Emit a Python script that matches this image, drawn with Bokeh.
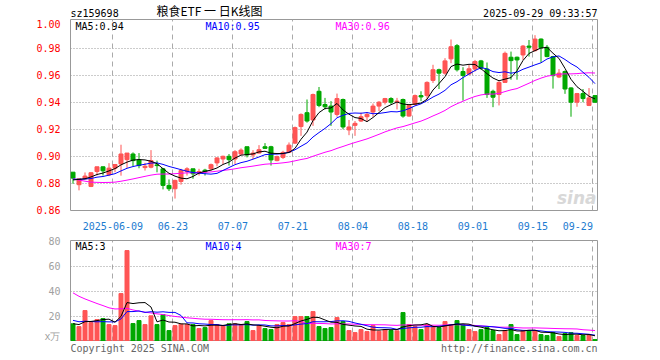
import numpy as np
import pandas as pd
from bokeh.plotting import figure
from bokeh.layouts import column
from bokeh.core.properties import value
from bokeh.models import ColumnDataSource, FixedTicker, Label, Range1d, PrintfTickFormatter
from bokeh.embed import file_html
from bokeh.resources import INLINE

# ---------------- data ----------------
holidays = ["2025-06-02"]
dates = [d for d in pd.bdate_range("2025-05-28", "2025-09-29").strftime("%Y-%m-%d") if d not in holidays]

tick_dates = ["2025-06-09", "2025-06-23", "2025-07-07", "2025-07-21", "2025-08-04",
              "2025-08-18", "2025-09-01", "2025-09-15", "2025-09-29"]
tick_labels = ["2025-06-09", "06-23", "07-07", "07-21", "08-04", "08-18", "09-01", "09-15", "09-29"]

open_ = [0.8881, 0.8788, 0.8832, 0.8775, 0.8886, 0.8921, 0.8862, 0.8911, 0.8942, 0.8974,
         0.9016, 0.8972, 0.8915, 0.8918, 0.8935, 0.8906, 0.8783, 0.8758, 0.8812, 0.8886,
         0.8906, 0.8876, 0.8896, 0.8906, 0.8950, 0.8979, 0.8999, 0.8979, 0.9016, 0.9070,
         0.9009, 0.9023, 0.9070, 0.9070, 0.8967, 0.8991, 0.9028, 0.9097, 0.9220, 0.9323,
         0.9269, 0.9482, 0.9384, 0.9372, 0.9310, 0.9421, 0.9195, 0.9229, 0.9261, 0.9293,
         0.9328, 0.9372, 0.9401, 0.9428, 0.9404, 0.9421, 0.9298, 0.9384, 0.9450, 0.9450,
         0.9563, 0.9642, 0.9617, 0.9723, 0.9821, 0.9629, 0.9610, 0.9647, 0.9708, 0.9647,
         0.9482, 0.9458, 0.9548, 0.9735, 0.9735, 0.9752, 0.9818, 0.9784, 0.9870, 0.9809,
         0.9740, 0.9588, 0.9629, 0.9507, 0.9401, 0.9465, 0.9377, 0.9450]
high = [0.8881, 0.8832, 0.8879, 0.8880, 0.8921, 0.8923, 0.8948, 0.8938, 0.9085, 0.9023,
        0.9028, 0.9023, 0.8950, 0.9045, 0.8967, 0.8911, 0.8827, 0.8825, 0.8906, 0.8918,
        0.8906, 0.8906, 0.8906, 0.8945, 0.8992, 0.9004, 0.9016, 0.9045, 0.9058, 0.9070,
        0.9045, 0.9082, 0.9097, 0.9077, 0.9004, 0.9040, 0.9102, 0.9220, 0.9318, 0.9421,
        0.9465, 0.9514, 0.9433, 0.9409, 0.9465, 0.9428, 0.9269, 0.9261, 0.9323, 0.9328,
        0.9391, 0.9409, 0.9433, 0.9438, 0.9433, 0.9428, 0.9384, 0.9458, 0.9482, 0.9556,
        0.9679, 0.9650, 0.9728, 0.9867, 0.9833, 0.9661, 0.9679, 0.9715, 0.9715, 0.9696,
        0.9494, 0.9556, 0.9777, 0.9777, 0.9740, 0.9826, 0.9863, 0.9899, 0.9875, 0.9826,
        0.9745, 0.9647, 0.9637, 0.9512, 0.9470, 0.9499, 0.9506, 0.9450]
low = [0.8795, 0.8746, 0.8827, 0.8770, 0.8857, 0.8856, 0.8852, 0.8881, 0.8855, 0.8913,
       0.8925, 0.8910, 0.8893, 0.8910, 0.8880, 0.8753, 0.8741, 0.8685, 0.8788, 0.8856,
       0.8832, 0.8856, 0.8856, 0.8893, 0.8925, 0.8942, 0.8930, 0.8942, 0.9009, 0.8991,
       0.8979, 0.9020, 0.9053, 0.8930, 0.8962, 0.8979, 0.9023, 0.9090, 0.9151, 0.9249,
       0.9225, 0.9364, 0.9347, 0.9225, 0.9293, 0.9200, 0.9156, 0.9151, 0.9254, 0.9261,
       0.9293, 0.9335, 0.9384, 0.9384, 0.9347, 0.9286, 0.9293, 0.9377, 0.9409, 0.9421,
       0.9544, 0.9499, 0.9605, 0.9691, 0.9629, 0.9413, 0.9600, 0.9629, 0.9642, 0.9433,
       0.9364, 0.9377, 0.9544, 0.9568, 0.9568, 0.9715, 0.9740, 0.9777, 0.9696, 0.9735,
       0.9502, 0.9580, 0.9463, 0.9293, 0.9367, 0.9401, 0.9372, 0.9396]
close = [0.8837, 0.8832, 0.8852, 0.8877, 0.8921, 0.8891, 0.8911, 0.8938, 0.9016, 0.9023,
         0.8967, 0.8930, 0.8925, 0.8967, 0.8930, 0.8783, 0.8758, 0.8820, 0.8893, 0.8906,
         0.8869, 0.8886, 0.8883, 0.8937, 0.8987, 0.8999, 0.8974, 0.9033, 0.9045, 0.9009,
         0.9023, 0.9048, 0.9058, 0.8972, 0.8996, 0.9028, 0.9082, 0.9212, 0.9310, 0.9261,
         0.9458, 0.9377, 0.9367, 0.9328, 0.9428, 0.9217, 0.9217, 0.9244, 0.9293, 0.9310,
         0.9372, 0.9401, 0.9428, 0.9401, 0.9409, 0.9298, 0.9377, 0.9450, 0.9440, 0.9548,
         0.9642, 0.9617, 0.9708, 0.9813, 0.9642, 0.9600, 0.9649, 0.9703, 0.9654, 0.9458,
         0.9438, 0.9548, 0.9764, 0.9710, 0.9715, 0.9818, 0.9809, 0.9870, 0.9806, 0.9740,
         0.9598, 0.9617, 0.9499, 0.9401, 0.9465, 0.9428, 0.9433, 0.9401]
volume = [13.9, 11.7, 24.5, 14.9, 17.3, 18.1, 13.3, 12.5, 38.1, 72.5,
          14.1, 16.5, 13.3, 20.3, 13.3, 21.3, 8.5, 12.5, 13.6, 13.3,
          13.3, 10.1, 10.9, 16.5, 13.3, 12.3, 13.9, 13.9, 13.3, 15.7,
          8.5, 12.3, 10.1, 9.3, 13.3, 14.9, 13.3, 19.7, 19.7, 19.7,
          23.7, 11.7, 10.1, 10.9, 18.9, 15.7, 8.5, 6.9, 9.3, 7.7,
          12.5, 8.0, 9.3, 8.5, 8.3, 22.9, 13.3, 11.7, 9.3, 13.3,
          11.7, 10.9, 15.7, 13.3, 16.5, 13.3, 9.3, 7.7, 9.3, 10.9,
          8.5, 5.3, 8.5, 13.3, 5.3, 8.5, 8.5, 8.5, 5.3, 4.5,
          6.9, 3.7, 6.1, 6.9, 4.5, 4.5, 4.5, 1.3]

# estimated sessions before the window (only feed the moving averages)
prev_close = [0.912, 0.910, 0.909, 0.897, 0.892, 0.889, 0.888, 0.881, 0.878, 0.870,
              0.864, 0.864, 0.869, 0.873, 0.875, 0.874, 0.875, 0.880, 0.882, 0.884,
              0.885, 0.883, 0.884, 0.882, 0.884, 0.881, 0.883, 0.881, 0.883]
prev_volume = [95, 88, 70, 72, 68, 67, 40, 34, 62, 52,
               45, 39, 38, 35, 37, 34, 33, 31, 29, 25,
               23, 20, 18, 19, 17, 15, 13, 14, 14]

RED = "#FF5555"
GREEN = "#00A800"
BLUE_TXT = "#1C7BD0"
MONO = "DejaVu Sans Mono"

n = len(close)
npre = len(prev_close)
xs = np.arange(n)
c_all = pd.Series(prev_close + close)
v_all = pd.Series(prev_volume + volume)
ma = {k: c_all.rolling(k).mean().iloc[npre:].to_numpy() for k in (5, 10, 30)}
vma = {k: v_all.rolling(k).mean().iloc[npre:].to_numpy() for k in (5, 10, 30)}

o = np.array(open_); c = np.array(close)
up = c >= o
colors = np.where(up, RED, GREEN)
src = ColumnDataSource(dict(
    x=xs, open=o, close=c, high=np.array(high), low=np.array(low),
    top=np.maximum(o, c), bottom=np.minimum(o, c), color=colors,
    vol=np.array(volume),
    ma5=ma[5], ma10=ma[10], ma30=ma[30],
    vma5=vma[5], vma10=vma[10], vma30=vma[30],
))

tick_pos = [dates.index(d) - 0.35 for d in tick_dates]

# pixel helpers (page pixels) for range set-up and text placement
PX0 = 72.5; PSTEP = 6.0
FRAME_L, FRAME_R = 70, 597
def px2x(px):
    return (px - PX0) / PSTEP
def py2p(py):
    return 0.86 + (211.5 - py) / 1360.0
def py2v(py):
    return -0.24 + (341 - py) / 1.25

W = 660

def strip(height):
    # frames in a column are aligned, so this strip's frame spans page x 70..597
    f = figure(width=W, height=height, output_backend="svg", toolbar_location=None,
               x_range=Range1d(FRAME_L, FRAME_R), y_range=Range1d(height, 0),
               x_axis_location=None, y_axis_location=None,
               min_border_left=FRAME_L, min_border_right=W - FRAME_R,
               min_border_top=0, min_border_bottom=0)
    f.grid.visible = False
    f.outline_line_color = None
    f.border_fill_color = "white"
    return f

def stext(f, x, y, t, color="black", align="left", font=MONO, size="10px", style="normal"):
    f.text(x=[x], y=[y], text=[t], text_color=color, text_align=align, text_baseline="middle",
           text_font=value(font), text_font_size=size, text_font_style=style)

# ---------------- header ----------------
p0 = strip(19)
stext(p0, 70, 12.5, "sz159698")
stext(p0, 209, 10, "粮食ETF 一 日K线图", font="Noto Sans CJK SC", size="12px", align="center")
stext(p0, 597, 12.5, "2025-09-29 09:33:57", align="right")

# ---------------- price panel ----------------
p1 = figure(width=W, height=215, output_backend="svg", toolbar_location=None,
            x_range=Range1d(px2x(FRAME_L), px2x(FRAME_R)), y_range=Range1d(py2p(212), py2p(19)),
            min_border_left=FRAME_L, min_border_right=W - FRAME_R, min_border_top=0, min_border_bottom=22)
p1.outline_line_color = "#999999"
p1.border_fill_color = "white"

p1.xaxis.ticker = FixedTicker(ticks=tick_pos)
overrides = {tp: lab for tp, lab in zip(tick_pos, tick_labels)}
overrides[tick_pos[-1]] = tick_labels[-1] + "\u00a0" * 5
p1.xaxis.major_label_overrides = overrides
p1.yaxis.ticker = FixedTicker(ticks=[0.86, 0.88, 0.90, 0.92, 0.94, 0.96, 0.98, 1.00])
p1.yaxis.formatter = PrintfTickFormatter(format="%.2f")
for ax in (p1.xaxis[0], p1.yaxis[0]):
    ax.axis_line_color = None
    ax.major_tick_line_color = None
    ax.minor_tick_line_color = None
    ax.major_label_text_font = MONO
    ax.major_label_text_font_size = "10px"
    ax.major_label_standoff = 4
p1.xaxis.major_label_text_color = BLUE_TXT
p1.yaxis.major_label_text_color = "#FF0000"

p1.xgrid.ticker = FixedTicker(ticks=tick_pos)
p1.xgrid.grid_line_color = "#AAAAAA"
p1.xgrid.grid_line_dash = "5 4"
p1.ygrid.ticker = FixedTicker(ticks=[0.88, 0.90, 0.92, 0.94, 0.96, 0.98])
p1.ygrid.grid_line_color = "#999999"
p1.ygrid.grid_line_dash = "1 2"

p1.segment(x0="x", y0="low", x1="x", y1="high", color="color", line_width=1, source=src)
p1.vbar(x="x", top="top", bottom="bottom", width=4 / PSTEP, fill_color="color",
        line_color="color", line_width=1, source=src)
p1.line("x", "ma30", color="#FF00FF", line_width=1, source=src)
p1.line("x", "ma10", color="#0000FF", line_width=1, source=src)
p1.line("x", "ma5", color="#000000", line_width=1, source=src)

def lab(p, x, y, text, color="black", align="left", font=MONO, size="10px", style="normal"):
    p.add_layout(Label(x=x, y=y, text=text, text_color=color, text_align=align,
                       text_baseline="middle", text_font=font, text_font_size=size,
                       text_font_style=style))

lab(p1, px2x(75), py2p(26), "MA5:0.94", color="#000000")
lab(p1, px2x(205), py2p(26), "MA10:0.95", color="#0000FF")
lab(p1, px2x(335), py2p(26), "MA30:0.96", color="#FF00FF")
lab(p1, px2x(596), py2p(199), "sina", color="#D8D8D8", align="right", font="DejaVu Sans",
    size="17px", style="bold italic")

# ---------------- volume panel ----------------
p2 = figure(width=W, height=107, output_backend="svg", toolbar_location=None,
            x_range=p1.x_range, y_range=Range1d(py2v(341), py2v(240)),
            x_axis_location=None,
            min_border_left=FRAME_L, min_border_right=W - FRAME_R, min_border_top=6, min_border_bottom=0)
p2.outline_line_color = "#999999"
p2.border_fill_color = "white"
p2.yaxis.ticker = FixedTicker(ticks=[0, 20, 40, 60, 80])
p2.yaxis.major_label_overrides = {0: "x万"}
ax = p2.yaxis[0]
ax.axis_line_color = None
ax.major_tick_line_color = None
ax.minor_tick_line_color = None
ax.major_label_text_font = MONO
ax.major_label_text_font_size = "10px"
ax.major_label_standoff = 4
ax.major_label_text_color = "#A0A0A0"

p2.xgrid.ticker = FixedTicker(ticks=tick_pos)
p2.xgrid.grid_line_color = "#AAAAAA"
p2.xgrid.grid_line_dash = "5 4"
p2.ygrid.ticker = FixedTicker(ticks=[20, 40, 60])
p2.ygrid.grid_line_color = "#999999"
p2.ygrid.grid_line_dash = "1 2"

p2.vbar(x="x", top="vol", bottom=0, width=4 / PSTEP, fill_color="color",
        line_color="color", line_width=1, source=src)
p2.line("x", "vma30", color="#FF00FF", line_width=1, source=src)
p2.line("x", "vma10", color="#0000FF", line_width=1, source=src)
p2.line("x", "vma5", color="#000000", line_width=1, source=src)

lab(p2, px2x(75), py2v(246), "MA5:3", color="#000000")
lab(p2, px2x(205), py2v(246), "MA10:4", color="#0000FF")
lab(p2, px2x(335), py2v(246), "MA30:7", color="#FF00FF")

# ---------------- footer ----------------
p3 = strip(19)
stext(p3, 70, 6.5, "Copyright 2025 SINA.COM", color="#666666")
stext(p3, 597, 6.5, "http://finance.sina.com.cn", color="#666666", align="right")

layout = column(p0, p1, p2, p3, spacing=0)
open("out.html", "w").write(file_html(layout, INLINE))
